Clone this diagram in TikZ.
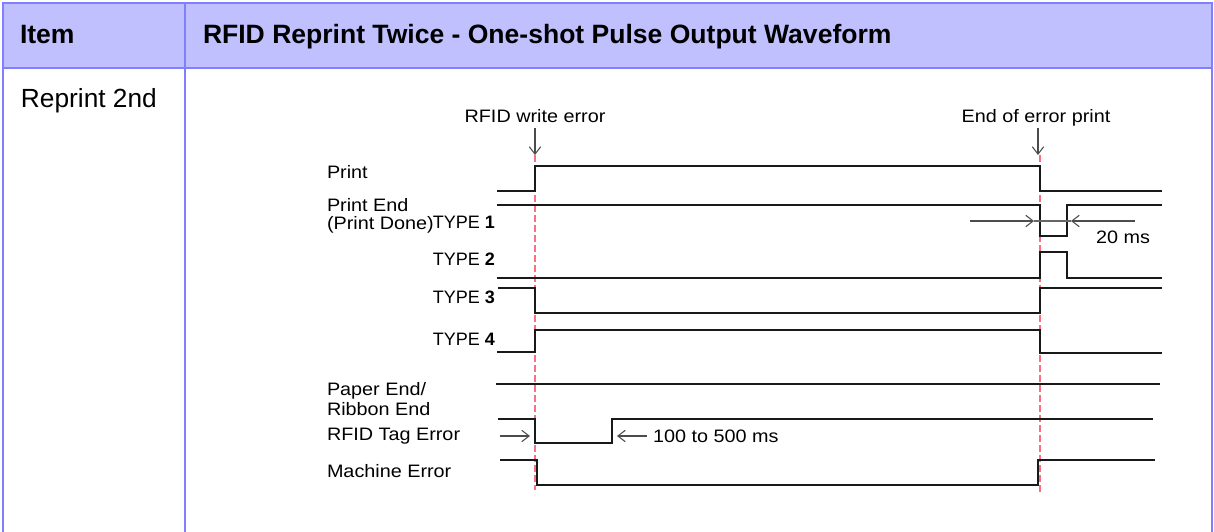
\documentclass[tikz,border=0pt]{standalone}
\usepackage{fontspec}
\setmainfont{Liberation Sans}
\newfontfamily\wavefont[FakeStretch=1.1]{Liberation Sans}
\usetikzlibrary{arrows.meta,positioning}
\definecolor{tblborder}{HTML}{8080FF}
\definecolor{tblhead}{HTML}{C0C0FF}
\definecolor{marker}{HTML}{FF6E7E}

\begin{document}
\begin{tikzpicture}[
    x=0.75pt, y=-0.75pt,
    every node/.style={inner sep=0pt, outer sep=0pt, anchor=base west},
    head/.style={font=\fontsize{19.9}{22}\selectfont\bfseries},
    cell/.style={font=\fontsize{19.7}{22}\selectfont},
    signal/.style={font=\wavefont\fontsize{13.5}{16}\selectfont},
    type/.style={font=\fontsize{13.5}{16}\selectfont, anchor=base east},
    event/.style={font=\wavefont\fontsize{13.5}{16}\selectfont, anchor=base},
    wave/.style={line width=1.9pt, black!90, line join=miter},
    marker/.style={draw=marker, line width=1.9pt, dash pattern=on 5pt off 2.5pt},
    pointer/.style={draw=black!70, line width=0.8pt, -{Straight Barb[length=5.5pt,width=8.5pt]}},
    dim/.style={draw=black!60, line width=0.8pt},
    rule/.style={draw=tblborder, line width=1.5pt}
]
\useasboundingbox (0,0) rectangle (1214,532);

% Table
\fill[tblhead] (3,3) rectangle (1212,68);
\draw[rule] (3,532) -- (3,3) -- (1212,3) -- (1212,532);
\draw[rule] (3,68) -- (1212,68);
\draw[rule] (185,3) -- (185,532);

\node[head] (item) at (20,43) {Item};
\node[head] (title) at (203,43) {RFID Reprint Twice - One-shot Pulse Output Waveform};
\node[cell] (reprint) at (21,107) {Reprint 2nd};

% Events
\node[event] (wrerr) at (535,122) {RFID write error};
\node[event] (errend) at (1036,122) {End of error print};
\coordinate (wrhit) at (535,155);
\coordinate (endhit) at (1038,155);
\draw[marker] (535,155) -- (535,490);
\draw[marker] (1040,155) -- (1040,493);
\draw[pointer] ([yshift=-4.5pt]wrerr.south) -- (wrhit);
\draw[pointer] (1038,128) -- (endhit);

% Signal labels
\node[signal] (print) at (327,178) {Print};
\node[signal] (printend) at (327,211) {Print End};
\node[signal] (printdone) at (327,229) {(Print Done)};
\node[type] (type1) at (495,228) {TYPE \textbf{1}};
\node[type] (type2) at (495,265) {TYPE \textbf{2}};
\node[type] (type3) at (495,303) {TYPE \textbf{3}};
\node[type] (type4) at (495,345) {TYPE \textbf{4}};
\node[signal] (paperend) at (327,395) {Paper End/};
\node[signal] (ribbonend) at (327,415) {Ribbon End};
\node[signal] (tagerr) at (327,440) {RFID Tag Error};
\node[signal] (macherr) at (327,477) {Machine Error};

% Waveforms
\draw[wave] (497,191) -- (535,191) -- (535,166) -- (1040,166) -- (1040,191) -- (1162,191);
\draw[wave] (497,205) -- (1040,205) -- (1040,236) -- (1067,236) -- (1067,205) -- (1162,205);
\draw[wave] (497,278) -- (1040,278) -- (1040,252) -- (1067,252) -- (1067,278) -- (1162,278);
\draw[wave] (498,288) -- (535,288) -- (535,313) -- (1040,313) -- (1040,288) -- (1162,288);
\draw[wave] (497,352) -- (535,352) -- (535,330) -- (1040,330) -- (1040,353) -- (1162,353);
\draw[wave] (496,384) -- (1160,384);
\draw[wave] (498,419) -- (535,419) -- (535,443) -- (612,443) -- (612,419) -- (1153,419);
\draw[wave] (500,460) -- (537,460) -- (537,485) -- (1038,485) -- (1038,460) -- (1155,460);

% Pulse width
\coordinate (lefttail) at (970,221);
\coordinate (lefttip) at (1034,221);
\coordinate (righttail) at (1135,221);
\coordinate (righttip) at (1071,221);
\draw[pointer] (lefttail) -- (lefttip);
\draw[pointer] (righttail) -- (righttip);
\draw[dim] (lefttip) -- (righttip);
\node[event] (twenty) at (1123,243) {20 ms};

% Tag error timing
\coordinate (tagtail) at (500,436);
\coordinate (tagtip) at (530,436);
\coordinate (backtail) at (647,436);
\coordinate (backtip) at (617,436);
\draw[pointer] (tagtail) -- (tagtip);
\draw[pointer] (backtail) -- (backtip);
\node[signal, right=4.5pt of backtail.east, anchor=west] (retry) {100 to 500 ms};

\end{tikzpicture}
\end{document}
